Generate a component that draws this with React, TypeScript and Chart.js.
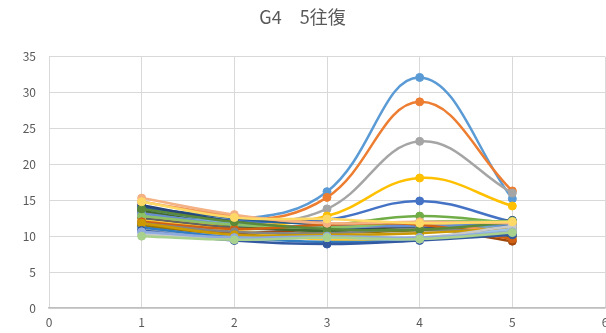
import React, { useEffect, useRef } from "react";
import { Chart, registerables } from "chart.js";

Chart.register(...registerables);

// Repetition index on the horizontal axis
const xValues = [1, 2, 3, 4, 5];

// One measurement series per subject (values at repetitions 1..5)
const s01 = [13.5, 12.3, 16.2, 32.1, 15.2];
const s02 = [13.2, 12.0, 15.4, 28.7, 16.3];
const s03 = [12.8, 11.8, 13.8, 23.2, 16.0];
const s04 = [12.5, 11.5, 12.8, 18.1, 14.2];
const s05 = [13.8, 12.2, 12.3, 14.9, 12.0];
const s06 = [12.0, 11.0, 11.5, 12.8, 11.8];
const s07 = [14.0, 12.5, 11.6, 11.5, 12.0];
const s08 = [11.5, 10.5, 11.0, 11.2, 9.3];
const s09 = [12.5, 11.2, 10.8, 11.0, 11.0];
const s10 = [11.5, 10.2, 10.5, 10.8, 11.5];
const s11 = [14.3, 12.0, 11.0, 11.2, 12.2];
const s12 = [13.5, 11.5, 10.7, 11.0, 10.0];
const s13 = [13.0, 11.8, 11.2, 11.6, 11.2];
const s14 = [14.8, 12.8, 11.8, 11.8, 10.5];
const s15 = [11.0, 10.0, 10.0, 10.5, 11.0];
const s16 = [12.2, 10.8, 9.5, 9.8, 10.8];
const s17 = [13.2, 11.6, 11.4, 11.4, 11.6];
const s18 = [12.8, 11.6, 11.2, 12.0, 12.1];
const s19 = [11.2, 9.8, 9.2, 9.6, 11.5];
const s20 = [12.0, 11.0, 11.6, 11.6, 9.6];
const s21 = [11.8, 10.6, 10.4, 11.0, 10.4];
const s22 = [11.8, 10.2, 10.2, 10.4, 11.2];
const s23 = [10.8, 9.4, 8.9, 9.4, 10.2];
const s24 = [13.8, 12.0, 11.0, 10.9, 11.9];
const s25 = [10.5, 9.6, 9.8, 9.6, 11.0];
const s26 = [15.3, 13.0, 11.8, 12.0, 11.8];
const s27 = [10.2, 9.6, 9.8, 9.8, 11.4];
const s28 = [14.8, 12.6, 12.4, 11.8, 12.0];
const s29 = [10.6, 9.8, 10.0, 9.8, 10.6];
const s30 = [10.0, 9.5, 9.8, 9.6, 10.5];

const seriesValues = [
  s01, s02, s03, s04, s05, s06, s07, s08, s09, s10,
  s11, s12, s13, s14, s15, s16, s17, s18, s19, s20,
  s21, s22, s23, s24, s25, s26, s27, s28, s29, s30,
];

const seriesColors = [
  "#5B9BD5", "#ED7D31", "#A5A5A5", "#FFC000", "#4472C4", "#70AD47",
  "#255E91", "#9E480E", "#636363", "#997300", "#264478", "#43682B",
  "#7CAFDD", "#F1975A", "#B7B7B7", "#FFCD33", "#698ED0", "#8CC168",
  "#327DC2", "#D26012", "#848484", "#CC9A00", "#335AA1", "#5A8A39",
  "#9DC3E6", "#F4B183", "#C9C9C9", "#FFD966", "#8FAADC", "#A9D18E",
];

const titleText = "G4　5往復";
const font = "'Noto Sans CJK JP', 'Noto Sans', sans-serif";
const textColor = "#595959";

export default function App() {
  const canvasRef = useRef<HTMLCanvasElement | null>(null);

  useEffect(() => {
    const canvas = canvasRef.current;
    if (!canvas) return;
    const n = seriesValues.length;
    const datasets = seriesValues.map((vals, i) => ({
      label: "系列" + (i + 1),
      data: vals.map((y, j) => ({ x: xValues[j], y })),
      borderColor: seriesColors[i],
      backgroundColor: seriesColors[i],
      pointBackgroundColor: seriesColors[i],
      pointBorderColor: seriesColors[i],
      pointRadius: 4,
      pointBorderWidth: 1,
      borderWidth: 2.5,
      tension: 0.4,
      showLine: true,
      fill: false,
      order: n - i,
    }));

    const chart = new Chart(canvas, {
      type: "scatter",
      data: { datasets },
      options: {
        animation: false,
        responsive: false,
        maintainAspectRatio: false,
        layout: { autoPadding: false, padding: { left: 0, right: 1, top: 0, bottom: 0 } },
        plugins: {
          legend: { display: false },
          tooltip: { enabled: false },
          title: {
            display: true,
            text: titleText,
            color: textColor,
            font: { family: font, size: 18, weight: "normal" },
            padding: { top: 6, bottom: 29 },
          },
        },
        scales: {
          x: {
            type: "linear",
            min: 0,
            max: 6,
            ticks: {
              stepSize: 1,
              color: textColor,
              font: { family: font, size: 12 },
              padding: 7,
            },
            grid: { color: "#D9D9D9", lineWidth: 1, drawTicks: false },
            border: { color: "#BFBFBF", width: 1.5 },
            afterFit: (scale: any) => {
              scale.height = 25;
              scale.paddingLeft = 0;
              scale.paddingRight = 0;
            },
          },
          y: {
            min: 0,
            max: 35,
            ticks: {
              stepSize: 5,
              color: textColor,
              font: { family: font, size: 12 },
              padding: 13,
            },
            grid: { color: "#D9D9D9", lineWidth: 1, drawTicks: false },
            border: { display: false },
            afterFit: (scale: any) => {
              scale.width = 49;
            },
          },
        },
      },
    });
    return () => chart.destroy();
  }, []);

  return (
    <div style={{ position: "fixed", left: 0, top: 0, width: 606, height: 333, background: "#fff" }}>
      <canvas ref={canvasRef} width={606} height={333} style={{ width: 606, height: 333 }} />
    </div>
  );
}
